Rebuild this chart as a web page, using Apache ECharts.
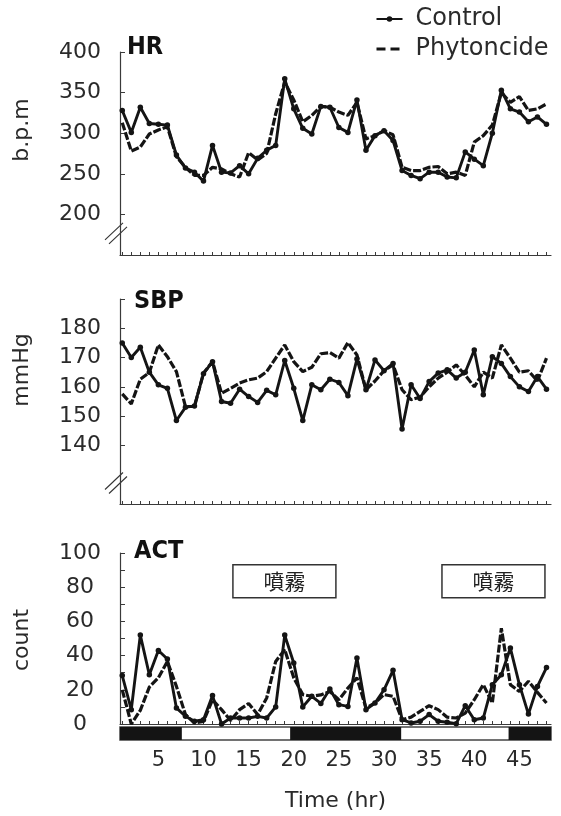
<!DOCTYPE html>
<html>
<head>
<meta charset="utf-8">
<script src="https://cdn.jsdelivr.net/npm/echarts@6/dist/echarts.min.js"></script>
<style>
html, body { margin: 0; padding: 0; background: #fff; }
#chart { width: 561px; height: 816px; }
</style>
</head>
<body>
<div id="chart"></div>
<script>
// Hourly recordings (hours 1..48)
const hours = [1,2,3,4,5,6,7,8,9,10,11,12,13,14,15,16,17,18,19,20,21,22,23,24,
               25,26,27,28,29,30,31,32,33,34,35,36,37,38,39,40,41,42,43,44,45,46,47,48];

// Heart rate (b.p.m)
const hrControl = [328,301,332,312,311,310,273,257,252,241,285,252,251,260,250,269,279,285,367,330,306,299,333,332,
                   307,301,341,279,297,303,291,254,248,244,252,252,246,245,277,268,260,300,353,330,326,314,320,311];
const hrPhyto   = [313,278,283,299,304,308,271,258,248,248,258,256,250,246,276,267,275,324,363,341,314,322,333,332,
                   326,322,338,293,297,303,298,258,254,254,258,259,250,252,248,289,297,310,350,338,345,328,330,336];

// Systolic blood pressure (mmHg)
const sbpControl = [175,170,173.5,165,160.7,159.5,148.5,153,153.5,164.5,168.6,155,154.4,159.2,156.7,154.7,158.8,157.3,169,159.5,148.5,160.7,159,162.6,
                    161.5,157,169.5,159,169.2,165.5,168,145.6,160.7,156,161.8,164.7,165.8,163,165,172.6,157.3,170.3,168,163.5,160,158.4,163.5,159.2];
const sbpPhyto   = [157.6,154.2,162.6,164.9,174.3,170.3,165.2,153.3,153.3,164.7,168.6,157.8,159.5,161.3,162.4,163,165.2,169.8,174.3,168.6,165.2,166.7,171.3,171.7,
                    169.8,175.1,170.9,159,162,165.5,167.5,159,155.6,156.5,160,163,165,167.5,164,160,165,163,174.3,169.8,165,165.5,162,169.8];

// Locomotor activity (count)
const actControl = [28.3,8.4,52,28.8,43,38,9.4,4.5,1.6,2.5,16.6,0,3.5,3.5,3.5,4.5,3.5,10,52,35.7,10,16.2,12,20.5,
                    11.3,10.3,38.6,8.4,12.3,20,31.4,2.5,0.6,1.6,5.5,1.6,1,0.2,10.7,2.5,3.5,23,28.8,44.4,23,5.8,22,33];
const actPhyto   = [20,0,8,21.6,27,36.6,22,5.5,0.6,1.5,14.2,8.4,2,8.4,12,5.5,15.2,36.6,43.5,27,17.2,16.2,17,19,
                    14.2,21,27,9.4,12.3,17.2,16.2,2.5,4,7.4,10.7,8.4,4,3.5,6.4,14.2,23,12.3,56,23,19,25,18.5,12.3];

// Light/dark schedule (dark phases, hours) and spraying periods (hours)
const darkPeriods  = [[0.75, 7.6], [19.6, 31.9], [43.8, 48.5]];
const sprayPeriods = [[13.26, 24.67], [36.42, 47.83]];
const sprayLabel = '噴霧';

// Tick values
const timeLabels = [5, 10, 15, 20, 25, 30, 35, 40, 45];
const hrTicks  = [200, 250, 300, 350, 400];
const sbpTicks = [140, 150, 160, 170, 180];
const sbpTickMarks = [140, 150, 160, 170, 180, 190];
const actLabels = [0, 20, 40, 60, 80, 100];
const actTickMarks = [10, 20, 30, 40, 50, 60, 70, 80, 90, 100];

const FONT = "'DejaVu Sans', sans-serif";
const BOLD = "'DejaVu Sans Condensed', 'Liberation Sans Narrow', 'DejaVu Sans', sans-serif";
const INK = '#141414';
const AXIS = '#3a3a3a';
const TEXT = '#2a2a2a';

const chart = echarts.init(document.getElementById('chart'), null, { renderer: 'canvas' });

const pairs = (vals) => hours.map((h, i) => [h, vals[i]]);

const X_MIN = 0.75, X_MAX = 48.5;

function panelX(gridIndex) {
  return {
    type: 'value', gridIndex, min: X_MIN, max: X_MAX,
    axisLine: { show: true, lineStyle: { color: AXIS, width: 1.2 } },
    axisTick: { show: true, inside: true, length: 3, customValues: hours, lineStyle: { color: AXIS, width: 1 } },
    axisLabel: { show: false },
    splitLine: { show: false }
  };
}

function panelY(gridIndex, min, max, ticks, labels) {
  return {
    type: 'value', gridIndex, min, max,
    axisLine: { show: true, lineStyle: { color: AXIS, width: 1.2 } },
    axisTick: { show: true, inside: true, length: 5, customValues: ticks, lineStyle: { color: AXIS, width: 1 } },
    axisLabel: { show: true, customValues: labels, align: 'center', margin: 40,
                 fontFamily: FONT, fontSize: 22, color: TEXT },
    splitLine: { show: false }
  };
}

const controlStyle = {
  type: 'line', name: 'Control', symbol: 'circle', symbolSize: 5.5, z: 4,
  itemStyle: { color: INK },
  lineStyle: { color: INK, width: 2.9 },
  animation: false
};
const phytoStyle = {
  type: 'line', name: 'Phytoncide', symbol: 'none', z: 3,
  itemStyle: { color: INK },
  lineStyle: { color: INK, width: 3.2, type: [8, 2] },
  animation: false
};

const option = {
  backgroundColor: '#fff',
  animation: false,
  grid: [
    { left: 120, top: 52, width: 431, height: 203 },
    { left: 120, top: 299, width: 431, height: 205 },
    { left: 120, top: 553, width: 431, height: 171 },
    { left: 120, top: 727, width: 431, height: 13, show: true, borderColor: '#444', borderWidth: 1.5, backgroundColor: '#fff' }
  ],
  legend: {
    data: [
      { name: 'Control' },
      { name: 'Phytoncide', itemStyle: { color: 'rgba(0,0,0,0)', borderColor: 'rgba(0,0,0,0)' },
        lineStyle: { color: INK, width: 3, type: [9, 5] } }
    ],
    orient: 'vertical', left: 370, top: 2,
    itemWidth: 26, itemHeight: 7, itemGap: 6,
    textStyle: { fontFamily: FONT, fontSize: 24, color: TEXT, padding: [0, 0, 0, 8] }
  },
  xAxis: [
    panelX(0), panelX(1), panelX(2),
    {
      type: 'value', gridIndex: 3, min: X_MIN, max: X_MAX,
      axisLine: { show: false }, axisTick: { show: false }, splitLine: { show: false },
      axisLabel: { show: true, customValues: timeLabels, margin: 10, fontFamily: FONT, fontSize: 21, color: TEXT },
      name: 'Time (hr)', nameLocation: 'middle', nameGap: 50,
      nameTextStyle: { fontFamily: FONT, fontSize: 22, color: TEXT }
    }
  ],
  yAxis: [
    panelY(0, 150, 400, hrTicks, hrTicks),
    panelY(1, 120, 190, sbpTickMarks, sbpTicks),
    panelY(2, 0, 100, actTickMarks, actLabels),
    { type: 'value', gridIndex: 3, min: 0, max: 1, show: false }
  ],
  series: [
    Object.assign({}, phytoStyle, { xAxisIndex: 0, yAxisIndex: 0, data: pairs(hrPhyto) }),
    Object.assign({}, controlStyle, { xAxisIndex: 0, yAxisIndex: 0, data: pairs(hrControl) }),
    Object.assign({}, phytoStyle, { xAxisIndex: 1, yAxisIndex: 1, data: pairs(sbpPhyto) }),
    Object.assign({}, controlStyle, { xAxisIndex: 1, yAxisIndex: 1, data: pairs(sbpControl) }),
    Object.assign({}, phytoStyle, { xAxisIndex: 2, yAxisIndex: 2, data: pairs(actPhyto) }),
    Object.assign({}, controlStyle, {
      xAxisIndex: 2, yAxisIndex: 2, data: pairs(actControl),
      markArea: {
        silent: true,
        itemStyle: { color: '#fff', borderColor: '#333', borderWidth: 1.5 },
        label: { show: true, position: 'inside', formatter: sprayLabel,
                 fontFamily: "'Noto Sans CJK JP', 'Noto Sans CJK SC', sans-serif", fontSize: 21, color: '#222' },
        data: sprayPeriods.map(p => [{ coord: [p[0], 93.2] }, { coord: [p[1], 73.9] }])
      }
    }),
    {
      type: 'custom', name: 'dark', xAxisIndex: 3, yAxisIndex: 3,
      data: darkPeriods,
      renderItem: (params, api) => {
        const a = api.coord([api.value(0), 1]);
        const b = api.coord([api.value(1), 0]);
        return { type: 'rect', shape: { x: a[0], y: a[1], width: b[0] - a[0], height: b[1] - a[1] },
                 style: { fill: '#141414' } };
      },
      animation: false, silent: true
    }
  ],
  graphic: [
    { type: 'text', left: 127, top: 35, style: { text: 'HR', font: "bold 25px " + BOLD, fill: '#111' } },
    { type: 'text', left: 134, top: 289, style: { text: 'SBP', font: "bold 25px " + BOLD, fill: '#111' } },
    { type: 'text', left: 134, top: 539, style: { text: 'ACT', font: "bold 25px " + BOLD, fill: '#111' } },
    { type: 'text', x: 22, y: 130, rotation: Math.PI / 2,
      style: { text: 'b.p.m', font: "22px " + FONT, fill: TEXT, align: 'center', verticalAlign: 'middle' } },
    { type: 'text', x: 22, y: 370, rotation: Math.PI / 2,
      style: { text: 'mmHg', font: "22px " + FONT, fill: TEXT, align: 'center', verticalAlign: 'middle' } },
    { type: 'text', x: 22, y: 640, rotation: Math.PI / 2,
      style: { text: 'count', font: "22px " + FONT, fill: TEXT, align: 'center', verticalAlign: 'middle' } }
  ]
};

chart.setOption(option);

// Axis break marks ("//") on the truncated HR and SBP axes
function breakMarks(axisIndex, value) {
  const y = chart.convertToPixel({ yAxisIndex: axisIndex }, value);
  const x = chart.convertToPixel({ xAxisIndex: axisIndex }, X_MIN);
  const out = [];
  [-2, 2].forEach(off => {
    out.push({
      type: 'line',
      shape: { x1: x - 13 + off, y1: y + 8 + off, x2: x + 5 + off, y2: y - 9 + off },
      style: { stroke: '#333', lineWidth: 1.1 }
    });
  });
  return out;
}
chart.setOption({
  graphic: option.graphic.concat(breakMarks(0, 176), breakMarks(1, 127))
});
</script>
</body>
</html>
